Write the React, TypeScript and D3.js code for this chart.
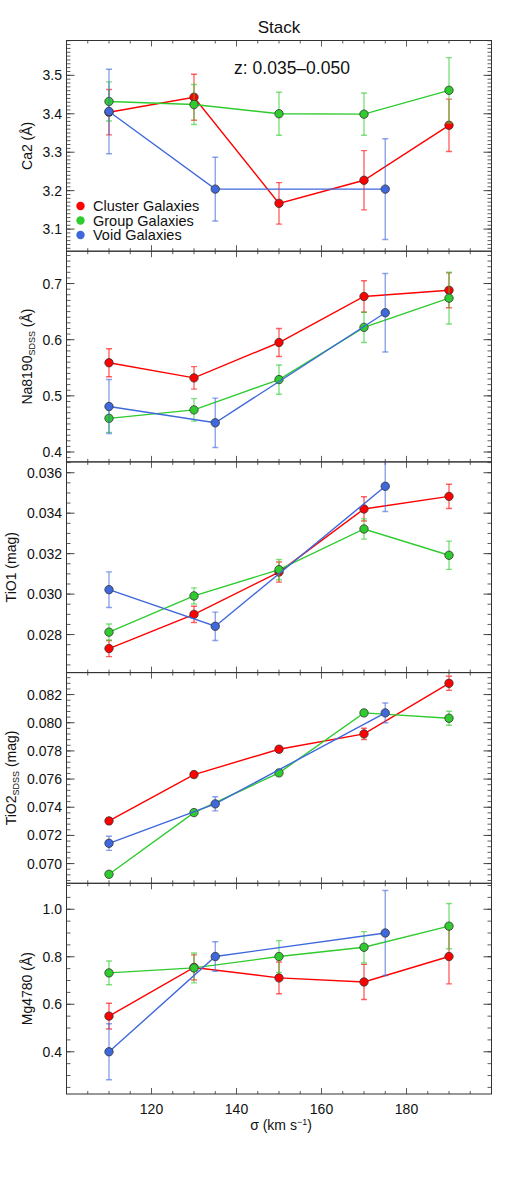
import React from "react";
import * as d3 from "d3";

// Velocity-dispersion bins (km/s) for each environment
const sigmaCluster = [110, 130, 150, 170, 190];
const sigmaGroup = [110, 130, 150, 170, 190];
const sigmaVoid = [110, 135, 175];

// Ca2 (Å)
const ca2Cluster = [3.404, 3.443, 3.167, 3.227, 3.370];
const ca2ClusterErr = [0.059, 0.060, 0.054, 0.077, 0.068];
const ca2Group = [3.432, 3.424, 3.400, 3.399, 3.461];
const ca2GroupErr = [0.051, 0.052, 0.056, 0.055, 0.085];
const ca2Void = [3.406, 3.204, 3.204];
const ca2VoidErr = [0.110, 0.083, 0.131];

// Na8190 SDSS (Å)
const naCluster = [0.559, 0.532, 0.595, 0.677, 0.688];
const naClusterErr = [0.025, 0.020, 0.025, 0.028, 0.031];
const naGroup = [0.460, 0.475, 0.529, 0.622, 0.674];
const naGroupErr = [0.025, 0.020, 0.026, 0.027, 0.046];
const naVoid = [0.481, 0.452, 0.648];
const naVoidErr = [0.048, 0.044, 0.070];

// TiO1 (mag)
const tio1Cluster = [0.02731, 0.02900, 0.03109, 0.03421, 0.03483];
const tio1ClusterErr = [0.0004, 0.0004, 0.0005, 0.0006, 0.0006];
const tio1Group = [0.02812, 0.02991, 0.03121, 0.03322, 0.03192];
const tio1GroupErr = [0.0004, 0.0004, 0.0005, 0.0005, 0.0007];
const tio1Void = [0.03022, 0.02841, 0.03533];
const tio1VoidErr = [0.00088, 0.0007, 0.00125];

// TiO2 SDSS (mag)
const tio2Cluster = [0.07303, 0.07632, 0.07812, 0.07921, 0.0828];
const tio2ClusterErr = [0.0002, 0.0002, 0.0002, 0.0004, 0.0005];
const tio2Group = [0.06924, 0.07362, 0.07644, 0.0807, 0.08032];
const tio2GroupErr = [0.0001, 0.0002, 0.0002, 0.0002, 0.0005];
const tio2Void = [0.07144, 0.07424, 0.0807];
const tio2VoidErr = [0.0005, 0.0005, 0.0007];

// Mg4780 (Å)
const mgCluster = [0.550, 0.755, 0.711, 0.694, 0.801];
const mgClusterErr = [0.054, 0.053, 0.067, 0.074, 0.115];
const mgGroup = [0.732, 0.753, 0.801, 0.840, 0.929];
const mgGroupErr = [0.050, 0.063, 0.067, 0.066, 0.095];
const mgVoid = [0.400, 0.801, 0.900];
const mgVoidErr = [0.118, 0.062, 0.179];

// Axis ranges and ticks
const xDomain = [100, 200];
const xMajorTicks = [120, 140, 160, 180];
const xMinorStep = 5;

const ca2Range = [3.0425, 3.5906];
const ca2Ticks = [3.1, 3.2, 3.3, 3.4, 3.5];
const naRange = [0.3824, 0.7576];
const naTicks = [0.4, 0.5, 0.6, 0.7];
const tio1Range = [0.02612, 0.036535];
const tio1Ticks = [0.028, 0.030, 0.032, 0.034, 0.036];
const tio2Range = [0.0686, 0.08356];
const tio2Ticks = [0.070, 0.072, 0.074, 0.076, 0.078, 0.080, 0.082];
const mgRange = [0.2222, 1.1093];
const mgTicks = [0.4, 0.6, 0.8, 1.0];

const seriesNames = ["Cluster Galaxies", "Group Galaxies", "Void Galaxies"];
const seriesColors = ["#ff0000", "#2fcb2f", "#3f68dc"];

type Series = { x: number[]; y: number[]; e: number[] };
type Panel = {
  label: string;
  sub?: string;
  unit: string;
  range: number[];
  ticks: number[];
  minor: number;
  fmt: string;
  series: Series[];
};

const panels: Panel[] = [
  {
    label: "Ca2", unit: " (Å)", range: ca2Range, ticks: ca2Ticks, minor: 0.01, fmt: ".1f",
    series: [
      { x: sigmaCluster, y: ca2Cluster, e: ca2ClusterErr },
      { x: sigmaGroup, y: ca2Group, e: ca2GroupErr },
      { x: sigmaVoid, y: ca2Void, e: ca2VoidErr },
    ],
  },
  {
    label: "Na8190", sub: "SDSS", unit: " (Å)", range: naRange, ticks: naTicks, minor: 0.01, fmt: ".1f",
    series: [
      { x: sigmaCluster, y: naCluster, e: naClusterErr },
      { x: sigmaGroup, y: naGroup, e: naGroupErr },
      { x: sigmaVoid, y: naVoid, e: naVoidErr },
    ],
  },
  {
    label: "TiO1", unit: " (mag)", range: tio1Range, ticks: tio1Ticks, minor: 0.0005, fmt: ".3f",
    series: [
      { x: sigmaCluster, y: tio1Cluster, e: tio1ClusterErr },
      { x: sigmaGroup, y: tio1Group, e: tio1GroupErr },
      { x: sigmaVoid, y: tio1Void, e: tio1VoidErr },
    ],
  },
  {
    label: "TiO2", sub: "SDSS", unit: " (mag)", range: tio2Range, ticks: tio2Ticks, minor: 0.0004, fmt: ".3f",
    series: [
      { x: sigmaCluster, y: tio2Cluster, e: tio2ClusterErr },
      { x: sigmaGroup, y: tio2Group, e: tio2GroupErr },
      { x: sigmaVoid, y: tio2Void, e: tio2VoidErr },
    ],
  },
  {
    label: "Mg4780", unit: " (Å)", range: mgRange, ticks: mgTicks, minor: 0.05, fmt: ".1f",
    series: [
      { x: sigmaCluster, y: mgCluster, e: mgClusterErr },
      { x: sigmaGroup, y: mgGroup, e: mgGroupErr },
      { x: sigmaVoid, y: mgVoid, e: mgVoidErr },
    ],
  },
];

const W = 532;
const H = 1180;
const left = 66.5;
const right = 491.5;
const top = 40.5;
const bottom = 1094;
const ph = (bottom - top) / panels.length;
const font = "'Liberation Sans', Arial, Helvetica, sans-serif";
const axisColor = "#333";
const tickFont = 14;

const x = d3.scaleLinear().domain(xDomain).range([left, right]);

function minorValues(lo: number, hi: number, step: number) {
  const out: number[] = [];
  const start = Math.ceil(lo / step - 1e-6);
  const end = Math.floor(hi / step + 1e-6);
  for (let i = start; i <= end; i++) out.push(+(i * step).toFixed(8));
  return out;
}

function PanelView({ p, idx }: { p: Panel; idx: number }) {
  const y0 = top + idx * ph;
  const y1 = y0 + ph;
  const y = d3.scaleLinear().domain(p.range).range([y1, y0]);
  const fmt = d3.format(p.fmt);
  const line = d3
    .line<[number, number]>()
    .x((d) => x(d[0]))
    .y((d) => y(d[1]));
  const clipId = `clip-${idx}`;
  const yMinor = minorValues(p.range[0], p.range[1], p.minor);
  const xMinor = minorValues(xDomain[0], xDomain[1], xMinorStep);
  const cy = (y0 + y1) / 2;
  const isLast = idx === panels.length - 1;
  const cap = 3;
  // axis title sits a fixed gap left of the widest tick label
  const labelChars = fmt(p.ticks[0]).length;
  const titleX = labelChars > 3 ? 11 : 27;

  return (
    <g>
      <defs>
        <clipPath id={clipId}>
          <rect x={left} y={y0} width={right - left} height={ph} />
        </clipPath>
      </defs>

      {/* y ticks on both sides, pointing inward */}
      {yMinor.map((v, i) => (
        <g key={"ym" + i} stroke={axisColor} strokeWidth={0.8}>
          <line x1={left} x2={left + 4} y1={y(v)} y2={y(v)} />
          <line x1={right} x2={right - 4} y1={y(v)} y2={y(v)} />
        </g>
      ))}
      {p.ticks.map((v, i) => (
        <g key={"yM" + i} stroke={axisColor} strokeWidth={0.9}>
          <line x1={left} x2={left + 8} y1={y(v)} y2={y(v)} />
          <line x1={right} x2={right - 8} y1={y(v)} y2={y(v)} />
        </g>
      ))}
      {p.ticks.map((v, i) => (
        <text
          key={"yl" + i}
          x={62}
          y={y(v)}
          dy="0.36em"
          textAnchor="end"
          fontFamily={font}
          fontSize={tickFont}
          fill="#111"
        >
          {fmt(v)}
        </text>
      ))}

      {/* x ticks on top and bottom edges */}
      {xMinor.map((v, i) => {
        const major = v % 20 === 0;
        const len = major ? 6 : 3;
        return (
          <g key={"xm" + i} stroke={axisColor} strokeWidth={0.8}>
            <line x1={x(v)} x2={x(v)} y1={y0} y2={y0 + len} />
            <line x1={x(v)} x2={x(v)} y1={y1} y2={y1 - len} />
          </g>
        );
      })}

      {/* y axis title */}
      <text
        transform={`translate(${titleX},${cy}) rotate(-90)`}
        textAnchor="middle"
        dy="0.36em"
        fontFamily={font}
        fontSize={14}
        fill="#111"
      >
        {p.label}
        {p.sub ? (
          <tspan fontSize={9} dy="3">
            {p.sub}
          </tspan>
        ) : null}
        <tspan dy={p.sub ? -3 : 0}>{p.unit}</tspan>
      </text>

      {/* data */}
      <g clipPath={`url(#${clipId})`}>
        {p.series.map((s, si) => {
          const pts = s.x.map((xv, k) => [xv, s.y[k]] as [number, number]);
          const c = seriesColors[si];
          return (
            <g key={"s" + si}>
              {s.x.map((xv, k) => {
                const px = x(xv);
                const ya = y(s.y[k] + s.e[k]);
                const yb = y(s.y[k] - s.e[k]);
                return (
                  <g key={"e" + k} stroke={c} strokeOpacity={0.6} strokeWidth={1.4}>
                    <line x1={px} x2={px} y1={ya} y2={yb} />
                    <line x1={px - cap} x2={px + cap} y1={ya} y2={ya} />
                    <line x1={px - cap} x2={px + cap} y1={yb} y2={yb} />
                  </g>
                );
              })}
              <path d={line(pts) || ""} fill="none" stroke={c} strokeWidth={1.4} />
              {pts.map((d, k) => (
                <circle
                  key={"c" + k}
                  cx={x(d[0])}
                  cy={y(d[1])}
                  r={4.2}
                  fill={c}
                  stroke="#333"
                  strokeWidth={0.8}
                />
              ))}
            </g>
          );
        })}
      </g>

      {/* frame */}
      <rect
        x={left}
        y={y0}
        width={right - left}
        height={ph}
        fill="none"
        stroke={axisColor}
        strokeWidth={1}
      />

      {isLast &&
        xMajorTicks.map((v) => (
          <text
            key={"xl" + v}
            x={x(v)}
            y={1114}
            textAnchor="middle"
            fontFamily={font}
            fontSize={tickFont}
            fill="#111"
          >
            {v}
          </text>
        ))}
    </g>
  );
}

export default function App() {
  return (
    <svg
      width={W}
      height={H}
      style={{ position: "absolute", left: 0, top: 0, background: "#fff" }}
    >
      <rect x={0} y={0} width={W} height={H} fill="#fff" />
      <text x={279} y={33} textAnchor="middle" fontFamily={font} fontSize={17} fill="#111">
        Stack
      </text>
      {panels.map((p, i) => (
        <PanelView key={i} p={p} idx={i} />
      ))}
      <text x={292} y={74} textAnchor="middle" fontFamily={font} fontSize={17.5} fill="#111">
        z: 0.035–0.050
      </text>

      {/* legend */}
      {seriesNames.map((name, i) => (
        <g key={name}>
          <circle cx={80.5} cy={206 + i * 14.5} r={4.2} fill={seriesColors[i]} stroke="none" />
          <text x={93} y={206 + i * 14.5} dy="0.36em" fontFamily={font} fontSize={14.5} fill="#111">
            {name}
          </text>
        </g>
      ))}

      {/* x axis title */}
      <text x={281} y={1130} textAnchor="middle" fontFamily={font} fontSize={14} fill="#111">
        σ (km s
        <tspan fontSize={9} dy={-5}>
          −1
        </tspan>
        <tspan dy={5}>)</tspan>
      </text>
    </svg>
  );
}
